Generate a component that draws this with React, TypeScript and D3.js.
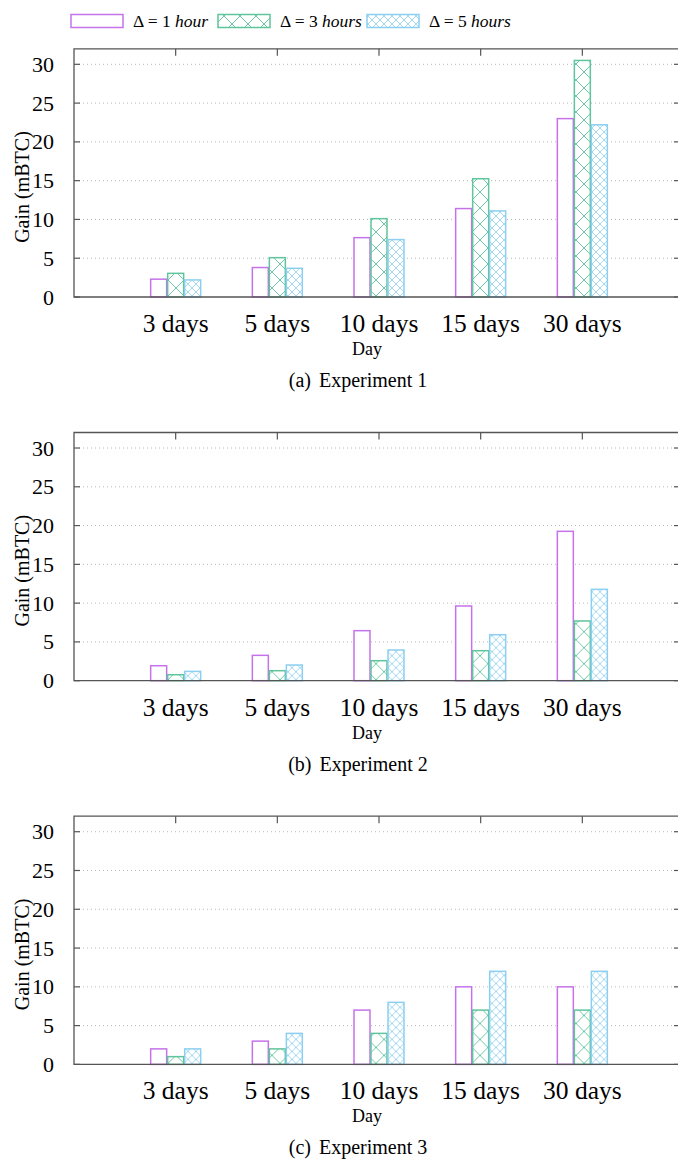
import React from 'react'
import * as d3 from 'd3'

// categories and series
const days = ['3 days', '5 days', '10 days', '15 days', '30 days']
const seriesKeys = ['h1', 'h3', 'h5']
const seriesNames = ['1 hour', '3 hours', '5 hours']
const yTicks = [0, 5, 10, 15, 20, 25, 30]

// gain in mBTC, one array per experiment and delta
const exp1H1 = [2.3, 3.8, 7.65, 11.4, 23.0]
const exp1H3 = [3.05, 5.07, 10.1, 15.25, 30.5]
const exp1H5 = [2.2, 3.7, 7.4, 11.1, 22.2]

const exp2H1 = [1.93, 3.27, 6.45, 9.63, 19.26]
const exp2H3 = [0.77, 1.29, 2.58, 3.87, 7.7]
const exp2H5 = [1.2, 2.02, 3.96, 5.93, 11.78]

const exp3H1 = [2, 3, 7, 10, 10]
const exp3H3 = [1, 2, 4, 7, 7]
const exp3H5 = [2, 4, 8, 12, 12]

const captions = ['(a)', '(b)', '(c)']
const captionTitles = ['Experiment 1', 'Experiment 2', 'Experiment 3']

const colors = ['#c573ea', '#5fc59c', '#8ccff0']
const FONT = 'Liberation Serif, Times New Roman, serif'

const W = 678
const H = 1161
const left = 74
const right = 684
const panelStep = 383.7
const axisBottom = 297
const axisTop = 48.8

const panels = [
  [exp1H1, exp1H3, exp1H5],
  [exp2H1, exp2H3, exp2H5],
  [exp3H1, exp3H3, exp3H5],
]

const x = d3.scaleLinear().domain([0, days.length + 1]).range([left, right])
const inner = d3.scaleBand().domain(seriesKeys).range([-25, 25]).paddingInner(0.06)
const y = d3.scaleLinear().domain([0, 32]).range([axisBottom, axisTop])

function fillFor(i) {
  if (i === 0) return 'white'
  return i === 1 ? 'url(#hatchBig)' : 'url(#hatchSmall)'
}

function Panel({ data, idx }) {
  const dy = idx * panelStep
  return (
    <g transform={`translate(0,${dy})`}>
      {/* grid */}
      {yTicks.filter(t => t > 0).map(t => (
        <line key={t} x1={left + 5} x2={right} y1={y(t)} y2={y(t)}
          stroke="#b8b8b8" strokeWidth={1} strokeDasharray="1,3" />
      ))}
      {/* bars */}
      {data.map((vals, s) =>
        vals.map((v, c) => (
          <rect key={s + '-' + c}
            x={x(c + 1) + inner(seriesKeys[s])}
            y={y(v)}
            width={inner.bandwidth()}
            height={y(0) - y(v)}
            fill={fillFor(s)}
            stroke={colors[s]}
            strokeWidth={1.5} />
        ))
      )}
      {/* border */}
      <path d={`M${right},${axisTop}H${left}V${axisBottom}H${right}`} fill="none" stroke="#555" strokeWidth={1.3} />
      {yTicks.map(t => (
        <g key={t}>
          <line x1={left} x2={left + 6} y1={y(t)} y2={y(t)} stroke="#555" strokeWidth={1.2} />
          <line x1={right - 10} x2={right - 4} y1={y(t)} y2={y(t)} stroke="#555" strokeWidth={1.2} />
          <text x={54} y={y(t) + 7.5} textAnchor="end" fontSize={22} fontFamily={FONT}>{t}</text>
        </g>
      ))}
      {days.map((d, c) => (
        <g key={d}>
          <line x1={x(c + 1)} x2={x(c + 1)} y1={axisTop} y2={axisTop + 7} stroke="#555" strokeWidth={1.2} />
          <text x={x(c + 1)} y={axisBottom + 35} textAnchor="middle" fontSize={25.5} fontFamily={FONT}>{d}</text>
        </g>
      ))}
      <text transform={`translate(29,187) rotate(-90)`} textAnchor="middle" fontSize={20} fontFamily={FONT}>Gain (mBTC)</text>
      <text x={367} y={axisBottom + 58} textAnchor="middle" fontSize={18} fontFamily={FONT}>Day</text>
      <text x={358} y={axisBottom + 90} textAnchor="middle" fontSize={20} fontFamily={FONT}>
        {captions[idx]}<tspan dx={8}>{captionTitles[idx]}</tspan>
      </text>
    </g>
  )
}

function Legend() {
  const boxes = [71, 218, 367]
  return (
    <g>
      {seriesNames.map((n, i) => (
        <g key={n}>
          <rect x={boxes[i]} y={14.5} width={52} height={13} fill={fillFor(i)} stroke={colors[i]} strokeWidth={1.5} />
          <text x={boxes[i] + 62} y={27} fontSize={17.5} fontFamily={FONT}>
            Δ = {n.split(' ')[0]} <tspan fontStyle="italic">{n.split(' ')[1]}</tspan>
          </text>
        </g>
      ))}
    </g>
  )
}

export default function App() {
  return (
    <svg width={W} height={H} style={{ position: 'absolute', left: 0, top: 0, background: 'white' }}>
      <defs>
        <pattern id="hatchBig" width={16} height={16} patternUnits="userSpaceOnUse">
          <rect width={16} height={16} fill="white" />
          <path d="M0,0L16,16M16,0L0,16" stroke={colors[1]} strokeWidth={0.9} />
        </pattern>
        <pattern id="hatchSmall" width={8} height={8} patternUnits="userSpaceOnUse">
          <rect width={8} height={8} fill="white" />
          <path d="M0,0L8,8M8,0L0,8" stroke={colors[2]} strokeWidth={0.8} />
        </pattern>
      </defs>
      <rect width={W} height={H} fill="white" />
      <Legend />
      {panels.map((p, i) => <Panel key={i} data={p} idx={i} />)}
    </svg>
  )
}
